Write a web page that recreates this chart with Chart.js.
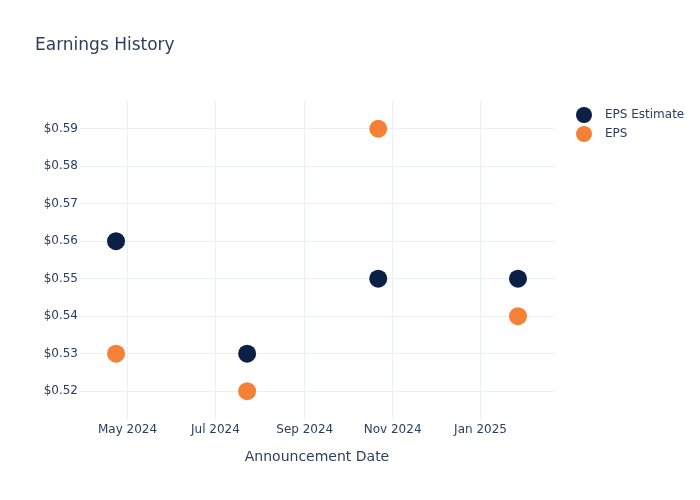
<!DOCTYPE html>
<html>
<head>
<meta charset="utf-8">
<script src="https://cdn.jsdelivr.net/npm/chart.js@4.4.1/dist/chart.umd.min.js"></script>
<style>
  body { margin: 0; background: #fff; }
  #wrap { width: 700px; height: 500px; }
</style>
</head>
<body>
<div id="wrap"><canvas id="myChart" width="700" height="500"></canvas></div>
<script>
// ---- data ----
const dates = ["2024-04-23", "2024-07-23", "2024-10-22", "2025-01-27"];
const epsEstimate = [0.56, 0.53, 0.55, 0.55];
const epsActual = [0.53, 0.52, 0.59, 0.54];
const seriesNames = ["EPS Estimate", "EPS"];
const xTickDates = ["2024-05-01", "2024-07-01", "2024-09-01", "2024-11-01", "2025-01-01"];
const xTickLabels = ["May 2024", "Jul 2024", "Sep 2024", "Nov 2024", "Jan 2025"];
const yTicks = [0.52, 0.53, 0.54, 0.55, 0.56, 0.57, 0.58, 0.59];

const navy = "#0c1f45";
const orange = "#f58137";
const textColor = "#2a3f5f";
const gridColor = "#ebf0f8";
const fontFamily = "'DejaVu Sans', Verdana, sans-serif";

const toTime = d => Date.parse(d + "T00:00:00Z");
const points = vals => vals.map((v, i) => ({ x: toTime(dates[i]), y: v }));

// legend drawn to the right of the plot, like plotly does
const sideLegend = {
  id: "sideLegend",
  afterDraw(chart) {
    const ctx = chart.ctx;
    const area = chart.chartArea;
    ctx.save();
    ctx.font = "12px " + fontFamily;
    ctx.textBaseline = "middle";
    chart.data.datasets.forEach((ds, i) => {
      const cy = area.top + 14 + i * 19;
      const cx = area.right + 30;
      ctx.beginPath();
      ctx.arc(cx, cy, 8, 0, Math.PI * 2);
      ctx.fillStyle = ds.backgroundColor;
      ctx.fill();
      ctx.fillStyle = textColor;
      ctx.fillText(ds.label, cx + 21, cy);
    });
    ctx.restore();
  }
};

new Chart("myChart", {
  type: "scatter",
  data: {
    datasets: [
      { label: seriesNames[0], data: points(epsEstimate), backgroundColor: navy, pointRadius: 9, borderWidth: 0, pointHoverRadius: 9 },
      { label: seriesNames[1], data: points(epsActual), backgroundColor: orange, pointRadius: 9, borderWidth: 0, pointHoverRadius: 9 }
    ]
  },
  options: {
    responsive: false,
    animation: false,
    devicePixelRatio: 1,
    layout: { padding: { left: 35, right: 146, top: 0, bottom: 0 } },
    plugins: {
      legend: { display: false },
      tooltip: { enabled: false },
      title: {
        display: true,
        text: "Earnings History",
        align: "start",
        color: textColor,
        font: { family: fontFamily, size: 17, weight: "normal" },
        padding: { top: 35, bottom: 45.6 }
      }
    },
    scales: {
      x: {
        type: "linear",
        min: toTime("2024-03-29"),
        max: toTime("2025-02-21"),
        afterBuildTicks: scale => { scale.ticks = xTickDates.map(d => ({ value: toTime(d) })); },
        afterFit: scale => { scale.height = 80; },
        ticks: {
          color: textColor,
          font: { family: fontFamily, size: 12 },
          padding: 3,
          maxRotation: 0,
          autoSkip: false,
          callback: (v, i) => xTickLabels[i]
        },
        grid: { color: gridColor, drawTicks: false },
        border: { display: false },
        title: {
          display: true,
          text: "Announcement Date",
          color: textColor,
          font: { family: fontFamily, size: 14 },
          padding: { top: 34, bottom: 34 }
        }
      },
      y: {
        min: 0.5123,
        max: 0.5974,
        afterBuildTicks: scale => { scale.ticks = yTicks.map(v => ({ value: v })); },
        afterFit: scale => { scale.width = 45; },
        ticks: {
          color: textColor,
          font: { family: fontFamily, size: 12 },
          padding: 2,
          callback: v => "$" + v.toFixed(2)
        },
        grid: { color: gridColor, drawTicks: false },
        border: { display: false }
      }
    }
  },
  plugins: [sideLegend]
});
</script>
</body>
</html>
